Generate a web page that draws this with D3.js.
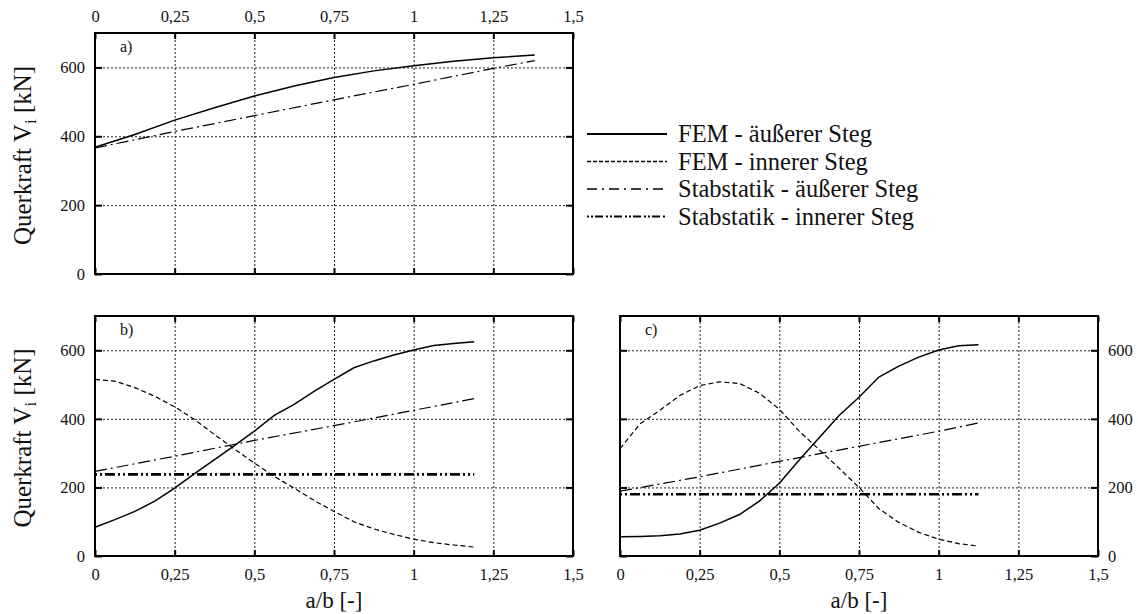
<!DOCTYPE html>
<html>
<head>
<meta charset="utf-8">
<script src="https://cdn.jsdelivr.net/npm/d3@7"></script>
<style>
  body { margin: 0; background: #fff; }
  svg { display: block; }
  svg text { font-family: "Liberation Serif", "Times New Roman", Times, "DejaVu Serif", "Noto Serif", serif; }
</style>
</head>
<body>
<svg id="chart" width="1138" height="614"></svg>
<script>
// axis ticks
const xTicks = [0, 0.25, 0.5, 0.75, 1, 1.25, 1.5];
const xTickLabels = ['0', '0,25', '0,5', '0,75', '1', '1,25', '1,5'];
const yTicks = [0, 200, 400, 600];
const yTickLabels = ['0', '200', '400', '600'];

const seriesNames = [
  'FEM - äußerer Steg',
  'FEM - innerer Steg',
  'Stabstatik - äußerer Steg',
  'Stabstatik - innerer Steg'
];

// panel a)
const aX = [0, 0.125, 0.25, 0.375, 0.5, 0.625, 0.75, 0.875, 1, 1.125, 1.25, 1.38];
const aFemAussen = [368, 405, 447, 483, 517, 546, 571, 590, 605, 618, 628, 636];
const aStabX = [0, 0.25, 0.5, 0.75, 1, 1.25, 1.38];
const aStabAussen = [366, 414, 460, 506, 551, 597, 620];

// panel b)
const bX = [0, 0.0625, 0.125, 0.1875, 0.25, 0.3125, 0.375, 0.4375, 0.5, 0.5625, 0.625, 0.6875, 0.75, 0.8125, 0.875, 0.9375, 1, 1.0625, 1.125, 1.19];
const bFemAussen = [84, 106, 130, 160, 198, 240, 281, 322, 364, 410, 442, 480, 515, 549, 569, 586, 601, 614, 620, 625];
const bFemInnen = [515, 510, 491, 466, 435, 398, 354, 312, 271, 232, 198, 162, 130, 100, 79, 63, 49, 39, 32, 26];
const bStabX = [0, 0.25, 0.5, 0.75, 1, 1.19];
const bStabAussen = [247, 291, 337, 380, 425, 459];
const bStabInnenX = [0, 1.19];
const bStabInnen = [238, 238];

// panel c)
const cX = [0, 0.0625, 0.125, 0.1875, 0.25, 0.3125, 0.375, 0.4375, 0.5, 0.5625, 0.625, 0.6875, 0.75, 0.8125, 0.875, 0.9375, 1, 1.0625, 1.125];
const cFemAussen = [56, 57, 59, 64, 75, 96, 121, 160, 212, 280, 345, 410, 463, 522, 554, 580, 601, 613, 616];
const cFemInnen = [313, 385, 425, 468, 497, 508, 503, 475, 428, 364, 310, 256, 200, 138, 98, 69, 49, 36, 29];
const cStabX = [0, 0.25, 0.5, 0.75, 1, 1.125];
const cStabAussen = [189, 231, 276, 320, 364, 388];
const cStabInnenX = [0, 1.125];
const cStabInnen = [180, 180];

const styles = [
  { dash: null, width: 1.5 },
  { dash: '5,3', width: 1.2 },
  { dash: '12,4,2,4', width: 1.2 },
  { dash: '2,3,2,3,10,3', width: 2.6 }
];

const svg = d3.select('#chart');

const panels = [
  { id: 'a)', x0: 95, y0: 33, w: 478, h: 241, xAxis: 'top', yAxis: 'left', yTitle: true, xTitle: false,
    series: [
      { xs: aX, ys: aFemAussen, s: 0 },
      { xs: aStabX, ys: aStabAussen, s: 2 }
    ] },
  { id: 'b)', x0: 95, y0: 316, w: 478, h: 240, xAxis: 'bottom', yAxis: 'left', yTitle: true, xTitle: true,
    series: [
      { xs: bX, ys: bFemAussen, s: 0 },
      { xs: bX, ys: bFemInnen, s: 1 },
      { xs: bStabX, ys: bStabAussen, s: 2 },
      { xs: bStabInnenX, ys: bStabInnen, s: 3 }
    ] },
  { id: 'c)', x0: 620, y0: 316, w: 478, h: 240, xAxis: 'bottom', yAxis: 'right', yTitle: false, xTitle: true,
    series: [
      { xs: cX, ys: cFemAussen, s: 0 },
      { xs: cX, ys: cFemInnen, s: 1 },
      { xs: cStabX, ys: cStabAussen, s: 2 },
      { xs: cStabInnenX, ys: cStabInnen, s: 3 }
    ] }
];

function drawPanel(p) {
  const g = svg.append('g').attr('transform', `translate(${p.x0},${p.y0})`);
  const x = d3.scaleLinear().domain([0, 1.5]).range([0, p.w]);
  const y = d3.scaleLinear().domain([0, 700]).range([p.h, 0]);

  // grid
  const gridX = g.append('g').attr('transform', `translate(0,${p.h})`)
    .call(d3.axisBottom(x).tickValues(xTicks.slice(1, -1)).tickSize(-p.h).tickFormat(''));
  const gridY = g.append('g')
    .call(d3.axisLeft(y).tickValues(yTicks.slice(1)).tickSize(-p.w).tickFormat(''));
  [gridX, gridY].forEach(gg => {
    gg.select('.domain').remove();
    gg.selectAll('line').attr('stroke', '#222').attr('stroke-width', 1).attr('stroke-dasharray', '2,2');
  });

  // inward tick marks on all four sides
  const tickAxes = [
    g.append('g').attr('transform', `translate(0,${p.h})`).call(d3.axisBottom(x).tickValues(xTicks).tickSize(-6).tickFormat('')),
    g.append('g').call(d3.axisTop(x).tickValues(xTicks).tickSize(-6).tickFormat('')),
    g.append('g').call(d3.axisLeft(y).tickValues(yTicks).tickSize(-7).tickFormat('')),
    g.append('g').attr('transform', `translate(${p.w},0)`).call(d3.axisRight(y).tickValues(yTicks).tickSize(-7).tickFormat(''))
  ];
  tickAxes.forEach(gg => {
    gg.select('.domain').remove();
    gg.selectAll('line').attr('stroke', '#000').attr('stroke-width', 2);
  });

  // tick labels
  const fmtX = d => xTickLabels[xTicks.indexOf(d)];
  const fmtY = d => yTickLabels[yTicks.indexOf(d)];
  let xLab;
  if (p.xAxis === 'top') {
    xLab = g.append('g').call(d3.axisTop(x).tickValues(xTicks).tickSize(0).tickPadding(11).tickFormat(fmtX));
  } else {
    xLab = g.append('g').attr('transform', `translate(0,${p.h})`)
      .call(d3.axisBottom(x).tickValues(xTicks).tickSize(0).tickPadding(12).tickFormat(fmtX));
  }
  let yLab;
  if (p.yAxis === 'left') {
    yLab = g.append('g').call(d3.axisLeft(y).tickValues(yTicks).tickSize(0).tickPadding(10).tickFormat(fmtY));
  } else {
    yLab = g.append('g').attr('transform', `translate(${p.w},0)`)
      .call(d3.axisRight(y).tickValues(yTicks).tickSize(0).tickPadding(10).tickFormat(fmtY));
  }
  [xLab, yLab].forEach(gg => {
    gg.select('.domain').remove();
    gg.attr('font-family', null);
    gg.selectAll('text').attr('font-size', 16.5).attr('fill', '#111');
  });

  // curves
  const line = d3.line().x(d => x(d[0])).y(d => y(d[1]));
  p.series.forEach(sr => {
    const st = styles[sr.s];
    g.append('path')
      .datum(sr.xs.map((v, i) => [v, sr.ys[i]]))
      .attr('d', line)
      .attr('fill', 'none')
      .attr('stroke', '#000')
      .attr('stroke-width', st.width)
      .attr('stroke-dasharray', st.dash);
  });

  // frame
  g.append('rect').attr('width', p.w).attr('height', p.h)
    .attr('fill', 'none').attr('stroke', '#000').attr('stroke-width', 2);

  g.append('text').attr('x', 25).attr('y', 19).attr('font-size', 16).attr('fill', '#111').text(p.id);

  if (p.yTitle) {
    const t = svg.append('text')
      .attr('transform', `translate(${p.x0 - 64},${p.y0 + p.h / 2 + 2}) rotate(-90)`)
      .attr('text-anchor', 'middle')
      .attr('font-size', 25)
      .attr('fill', '#111');
    t.append('tspan').text('Querkraft V');
    t.append('tspan').attr('font-size', 17).attr('dy', 5).text('i');
    t.append('tspan').attr('dy', -5).text(' [kN]');
  }
  if (p.xTitle) {
    svg.append('text')
      .attr('x', p.x0 + p.w / 2).attr('y', p.y0 + p.h + 52)
      .attr('text-anchor', 'middle').attr('font-size', 23).attr('fill', '#111')
      .text('a/b [-]');
  }
}

panels.forEach(drawPanel);

// legend
const legend = svg.append('g').attr('transform', 'translate(587,134)');
seriesNames.forEach((name, i) => {
  const row = legend.append('g').attr('transform', `translate(0,${i * 27.5})`);
  const st = styles[i];
  row.append('line').attr('x1', 0).attr('x2', 80).attr('y1', 0).attr('y2', 0)
    .attr('stroke', '#000')
    .attr('stroke-width', i === 3 ? 2 : st.width + 0.5)
    .attr('stroke-dasharray', i === 1 ? '4,2' : i === 2 ? '10,5,2,5' : i === 3 ? '2,2,2,2,8,3' : null);
  row.append('text').attr('x', 91).attr('y', 8).attr('font-size', 24.5).attr('fill', '#111').text(name);
});
</script>
</body>
</html>
